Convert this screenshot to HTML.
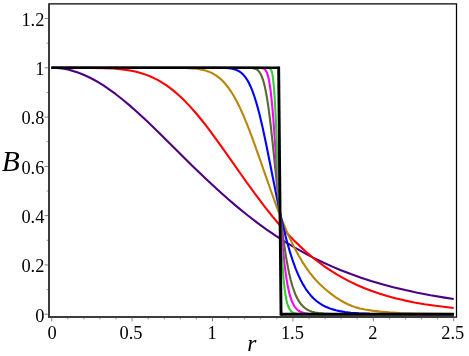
<!DOCTYPE html>
<html><head><meta charset="utf-8"><title>B(r)</title>
<style>
html,body{margin:0;padding:0;background:#fff;}
body{width:469px;height:356px;overflow:hidden;}
svg{display:block;will-change:transform;}
.t{font-family:"Liberation Serif",serif;font-size:18.4px;fill:#000;}
.i{font-family:"Liberation Serif",serif;font-style:italic;fill:#000;}
</style></head><body>
<svg width="469" height="356" viewBox="0 0 469 356">
<!-- frame -->
<path d="M49.0,3.8 H456.5 V317.1 H49.0" fill="none" stroke="#000" stroke-width="1.25"/>
<line x1="44.5" y1="314.2" x2="49.0" y2="314.2" stroke="#777" stroke-width="0.9"/>
<line x1="46.5" y1="289.6" x2="49.0" y2="289.6" stroke="#999" stroke-width="1"/>
<line x1="44.5" y1="264.9" x2="49.0" y2="264.9" stroke="#777" stroke-width="0.9"/>
<line x1="46.5" y1="240.3" x2="49.0" y2="240.3" stroke="#999" stroke-width="1"/>
<line x1="44.5" y1="215.6" x2="49.0" y2="215.6" stroke="#777" stroke-width="0.9"/>
<line x1="46.5" y1="191.0" x2="49.0" y2="191.0" stroke="#999" stroke-width="1"/>
<line x1="44.5" y1="166.4" x2="49.0" y2="166.4" stroke="#777" stroke-width="0.9"/>
<line x1="46.5" y1="141.7" x2="49.0" y2="141.7" stroke="#999" stroke-width="1"/>
<line x1="44.5" y1="117.1" x2="49.0" y2="117.1" stroke="#777" stroke-width="0.9"/>
<line x1="46.5" y1="92.4" x2="49.0" y2="92.4" stroke="#999" stroke-width="1"/>
<line x1="44.5" y1="67.8" x2="49.0" y2="67.8" stroke="#777" stroke-width="0.9"/>
<line x1="46.5" y1="43.2" x2="49.0" y2="43.2" stroke="#999" stroke-width="1"/>
<line x1="44.5" y1="18.5" x2="49.0" y2="18.5" stroke="#777" stroke-width="0.9"/>
<line x1="51.7" y1="316.9" x2="51.7" y2="321.4" stroke="#777" stroke-width="0.9"/>
<line x1="67.8" y1="316.9" x2="67.8" y2="319.4" stroke="#999" stroke-width="1"/>
<line x1="83.9" y1="316.9" x2="83.9" y2="319.4" stroke="#999" stroke-width="1"/>
<line x1="99.9" y1="316.9" x2="99.9" y2="319.4" stroke="#999" stroke-width="1"/>
<line x1="116.0" y1="316.9" x2="116.0" y2="319.4" stroke="#999" stroke-width="1"/>
<line x1="132.1" y1="316.9" x2="132.1" y2="321.4" stroke="#777" stroke-width="0.9"/>
<line x1="148.2" y1="316.9" x2="148.2" y2="319.4" stroke="#999" stroke-width="1"/>
<line x1="164.3" y1="316.9" x2="164.3" y2="319.4" stroke="#999" stroke-width="1"/>
<line x1="180.3" y1="316.9" x2="180.3" y2="319.4" stroke="#999" stroke-width="1"/>
<line x1="196.4" y1="316.9" x2="196.4" y2="319.4" stroke="#999" stroke-width="1"/>
<line x1="212.5" y1="316.9" x2="212.5" y2="321.4" stroke="#777" stroke-width="0.9"/>
<line x1="228.6" y1="316.9" x2="228.6" y2="319.4" stroke="#999" stroke-width="1"/>
<line x1="244.7" y1="316.9" x2="244.7" y2="319.4" stroke="#999" stroke-width="1"/>
<line x1="260.7" y1="316.9" x2="260.7" y2="319.4" stroke="#999" stroke-width="1"/>
<line x1="276.8" y1="316.9" x2="276.8" y2="319.4" stroke="#999" stroke-width="1"/>
<line x1="292.9" y1="316.9" x2="292.9" y2="321.4" stroke="#777" stroke-width="0.9"/>
<line x1="309.0" y1="316.9" x2="309.0" y2="319.4" stroke="#999" stroke-width="1"/>
<line x1="325.1" y1="316.9" x2="325.1" y2="319.4" stroke="#999" stroke-width="1"/>
<line x1="341.1" y1="316.9" x2="341.1" y2="319.4" stroke="#999" stroke-width="1"/>
<line x1="357.2" y1="316.9" x2="357.2" y2="319.4" stroke="#999" stroke-width="1"/>
<line x1="373.3" y1="316.9" x2="373.3" y2="321.4" stroke="#777" stroke-width="0.9"/>
<line x1="389.4" y1="316.9" x2="389.4" y2="319.4" stroke="#999" stroke-width="1"/>
<line x1="405.5" y1="316.9" x2="405.5" y2="319.4" stroke="#999" stroke-width="1"/>
<line x1="421.5" y1="316.9" x2="421.5" y2="319.4" stroke="#999" stroke-width="1"/>
<line x1="437.6" y1="316.9" x2="437.6" y2="319.4" stroke="#999" stroke-width="1"/>
<line x1="453.7" y1="316.9" x2="453.7" y2="321.4" stroke="#777" stroke-width="0.9"/>
<!-- curves -->
<path d="M51.70,67.80 L55.73,67.91 L59.76,68.25 L63.79,68.81 L67.82,69.59 L72.86,70.88 L77.90,72.50 L82.93,74.44 L87.97,76.70 L93.01,79.26 L98.05,82.10 L103.08,85.22 L109.13,89.29 L115.17,93.71 L122.23,99.24 L129.28,105.14 L137.34,112.25 L147.41,121.60 L159.50,133.28 L193.76,167.15 L206.86,179.74 L217.94,190.02 L228.02,199.00 L238.09,207.58 L247.88,215.52 L257.41,222.84 L266.67,229.57 L275.93,235.91 L285.20,241.87 L294.46,247.45 L303.72,252.66 L313.11,257.59 L322.64,262.23 L331.79,266.37 L340.86,270.17 L350.93,274.07 L361.01,277.64 L371.08,280.92 L382.17,284.20 L393.25,287.17 L405.34,290.09 L417.43,292.70 L430.53,295.22 L444.63,297.61 L453.70,298.99" fill="none" stroke="#4b0082" stroke-width="2.1" stroke-linejoin="round"/>
<path d="M51.70,67.80 L92.00,67.86 L104.09,68.09 L113.16,68.51 L120.21,69.10 L126.26,69.85 L131.29,70.70 L136.33,71.79 L141.37,73.17 L146.41,74.87 L150.44,76.48 L154.47,78.33 L158.50,80.44 L162.53,82.81 L166.56,85.46 L170.59,88.39 L174.62,91.61 L179.65,96.02 L184.69,100.86 L189.73,106.11 L194.77,111.75 L200.81,118.98 L206.86,126.65 L213.91,136.05 L223.99,150.07 L246.94,182.75 L256.74,196.23 L265.06,207.18 L272.58,216.59 L279.69,225.01 L286.54,232.65 L293.25,239.68 L299.83,246.12 L306.27,252.00 L312.71,257.46 L319.15,262.51 L325.06,266.81 L330.78,270.67 L336.83,274.44 L342.87,277.92 L349.93,281.63 L356.98,284.98 L364.03,288.01 L371.08,290.75 L379.14,293.54 L387.20,296.01 L395.26,298.20 L404.33,300.35 L414.41,302.41 L424.48,304.18 L435.56,305.81 L447.65,307.30 L453.70,307.94" fill="none" stroke="#ff0000" stroke-width="2.1" stroke-linejoin="round"/>
<path d="M51.70,67.80 L175.62,67.85 L185.70,68.03 L191.75,68.34 L196.78,68.82 L200.81,69.44 L203.84,70.11 L206.86,70.98 L209.88,72.11 L212.90,73.55 L215.93,75.36 L218.95,77.58 L220.96,79.31 L222.98,81.27 L224.99,83.47 L228.02,87.22 L231.04,91.56 L234.06,96.50 L237.08,102.03 L240.11,108.15 L243.13,114.82 L247.08,124.30 L251.64,136.15 L257.55,152.52 L271.34,192.01 L277.14,207.81 L282.11,220.49 L286.54,231.01 L290.70,240.15 L294.73,248.29 L298.62,255.49 L302.38,261.83 L306.13,267.60 L309.89,272.81 L313.65,277.52 L317.41,281.73 L321.17,285.51 L325.06,288.99 L330.78,293.61 L335.82,297.29 L339.85,299.93 L343.88,302.26 L347.91,304.28 L351.94,305.98 L355.97,307.37 L360.00,308.47 L365.04,309.50 L372.09,310.63 L380.15,311.59 L389.22,312.37 L400.30,313.01 L415.41,313.54 L436.57,313.91 L453.70,314.05" fill="none" stroke="#b8860b" stroke-width="2.1" stroke-linejoin="round"/>
<path d="M51.70,67.80 L218.95,67.84 L224.99,67.99 L229.02,68.29 L232.05,68.73 L234.06,69.20 L236.08,69.85 L238.09,70.75 L240.11,71.97 L241.11,72.73 L242.12,73.59 L243.13,74.57 L244.93,76.64 L246.81,79.31 L248.69,82.56 L250.57,86.44 L252.58,91.35 L254.73,97.48 L257.01,105.00 L259.56,114.59 L262.51,127.10 L266.14,144.08 L277.01,198.57 L280.90,216.74 L284.26,231.06 L287.34,242.95 L290.16,252.68 L292.85,260.96 L295.53,268.31 L298.08,274.47 L300.63,279.90 L303.18,284.66 L305.73,288.80 L308.28,292.41 L310.97,295.68 L313.65,298.48 L316.47,300.98 L319.42,303.19 L322.51,305.12 L325.75,306.78 L328.77,308.07 L331.79,309.13 L335.82,310.27 L339.85,311.15 L344.89,311.99 L350.93,312.69 L358.99,313.30 L370.08,313.75 L387.20,314.05 L426.50,314.19 L453.70,314.20" fill="none" stroke="#0000ff" stroke-width="2.1" stroke-linejoin="round"/>
<path d="M51.70,67.80 L248.28,67.84 L251.91,68.04 L254.06,68.40 L255.67,68.94 L257.01,69.67 L258.24,70.68 L259.42,72.05 L260.63,73.98 L261.84,76.57 L263.05,79.95 L264.29,84.37 L265.60,90.23 L267.08,98.37 L268.69,109.14 L270.57,124.01 L273.12,147.30 L277.85,193.62 L280.24,213.62 L283.26,237.96 L285.28,252.05 L287.16,263.30 L288.90,272.19 L290.65,279.71 L292.39,286.01 L294.14,291.23 L295.88,295.55 L297.63,299.09 L299.37,301.98 L301.12,304.33 L302.99,306.37 L304.94,308.05 L307.02,309.45 L309.30,310.63 L311.99,311.65 L315.07,312.47 L318.83,313.12 L323.80,313.62 L331.13,313.97 L344.23,314.16 L454.05,314.20" fill="none" stroke="#556b2f" stroke-width="2.1" stroke-linejoin="round"/>
<path d="M51.70,67.80 L259.42,67.84 L261.71,68.03 L263.05,68.36 L264.12,68.89 L265.06,69.68 L265.87,70.71 L266.67,72.19 L267.61,74.68 L268.55,78.20 L269.49,82.99 L270.57,90.28 L271.77,101.01 L273.12,116.09 L274.86,139.90 L278.48,194.23 L281.78,236.03 L283.40,253.72 L284.87,267.05 L286.22,276.94 L287.56,284.96 L288.90,291.37 L290.24,296.46 L291.59,300.46 L292.93,303.58 L294.27,306.01 L295.61,307.90 L297.09,309.48 L298.70,310.76 L300.44,311.76 L302.46,312.56 L305.01,313.21 L308.36,313.69 L313.33,314.01 L323.53,314.17 L454.05,314.20" fill="none" stroke="#ff00ff" stroke-width="2.1" stroke-linejoin="round"/>
<path d="M51.70,67.80 L267.61,67.84 L268.95,68.01 L269.76,68.34 L270.43,68.90 L271.10,69.93 L271.77,71.72 L272.44,74.63 L273.12,79.09 L273.92,87.09 L274.73,98.50 L275.80,119.21 L277.71,166.45 L279.49,208.71 L281.37,246.79 L282.59,266.54 L283.67,279.80 L284.61,288.60 L285.55,295.28 L286.49,300.29 L287.42,304.02 L288.36,306.76 L289.30,308.78 L290.24,310.26 L291.32,311.46 L292.53,312.39 L293.87,313.05 L295.61,313.57 L298.16,313.94 L302.73,314.14 L339.19,314.20 L454.05,314.20" fill="none" stroke="#32cd32" stroke-width="2.1" stroke-linejoin="round"/>
<path d="M51.3,67.8 H279.9" fill="none" stroke="#000" stroke-width="2.5"/>
<path d="M278.65,66.7 L281.05,315.5" fill="none" stroke="#000" stroke-width="2.9"/>
<path d="M280.5,314.3 H453.9" fill="none" stroke="#000" stroke-width="2.9"/>
<!-- axes -->
<path d="M49.0,3.3 V316.9 H454.2" fill="none" stroke="#3c3c3c" stroke-width="2" stroke-linejoin="miter" stroke-linecap="butt"/>
<g>
<text x="44.4" y="321.5" text-anchor="end" class="t">0</text>
<text x="44.4" y="272.2" text-anchor="end" class="t">0.2</text>
<text x="44.4" y="222.9" text-anchor="end" class="t">0.4</text>
<text x="44.4" y="173.7" text-anchor="end" class="t">0.6</text>
<text x="44.4" y="124.4" text-anchor="end" class="t">0.8</text>
<text x="44.4" y="75.1" text-anchor="end" class="t">1</text>
<text x="44.4" y="25.8" text-anchor="end" class="t">1.2</text>
<text x="52.2" y="339.0" text-anchor="middle" class="t">0</text>
<text x="131.0" y="339.0" text-anchor="middle" class="t">0.5</text>
<text x="212.0" y="339.0" text-anchor="middle" class="t">1</text>
<text x="292.4" y="339.0" text-anchor="middle" class="t">1.5</text>
<text x="372.8" y="339.0" text-anchor="middle" class="t">2</text>
<text x="452.7" y="339.0" text-anchor="middle" class="t">2.5</text>
<text x="1.8" y="171.3" class="i" font-size="29.5">B</text>
<text x="247.3" y="351" class="i" font-size="23.5">r</text>
</g>
</svg>
</body></html>
